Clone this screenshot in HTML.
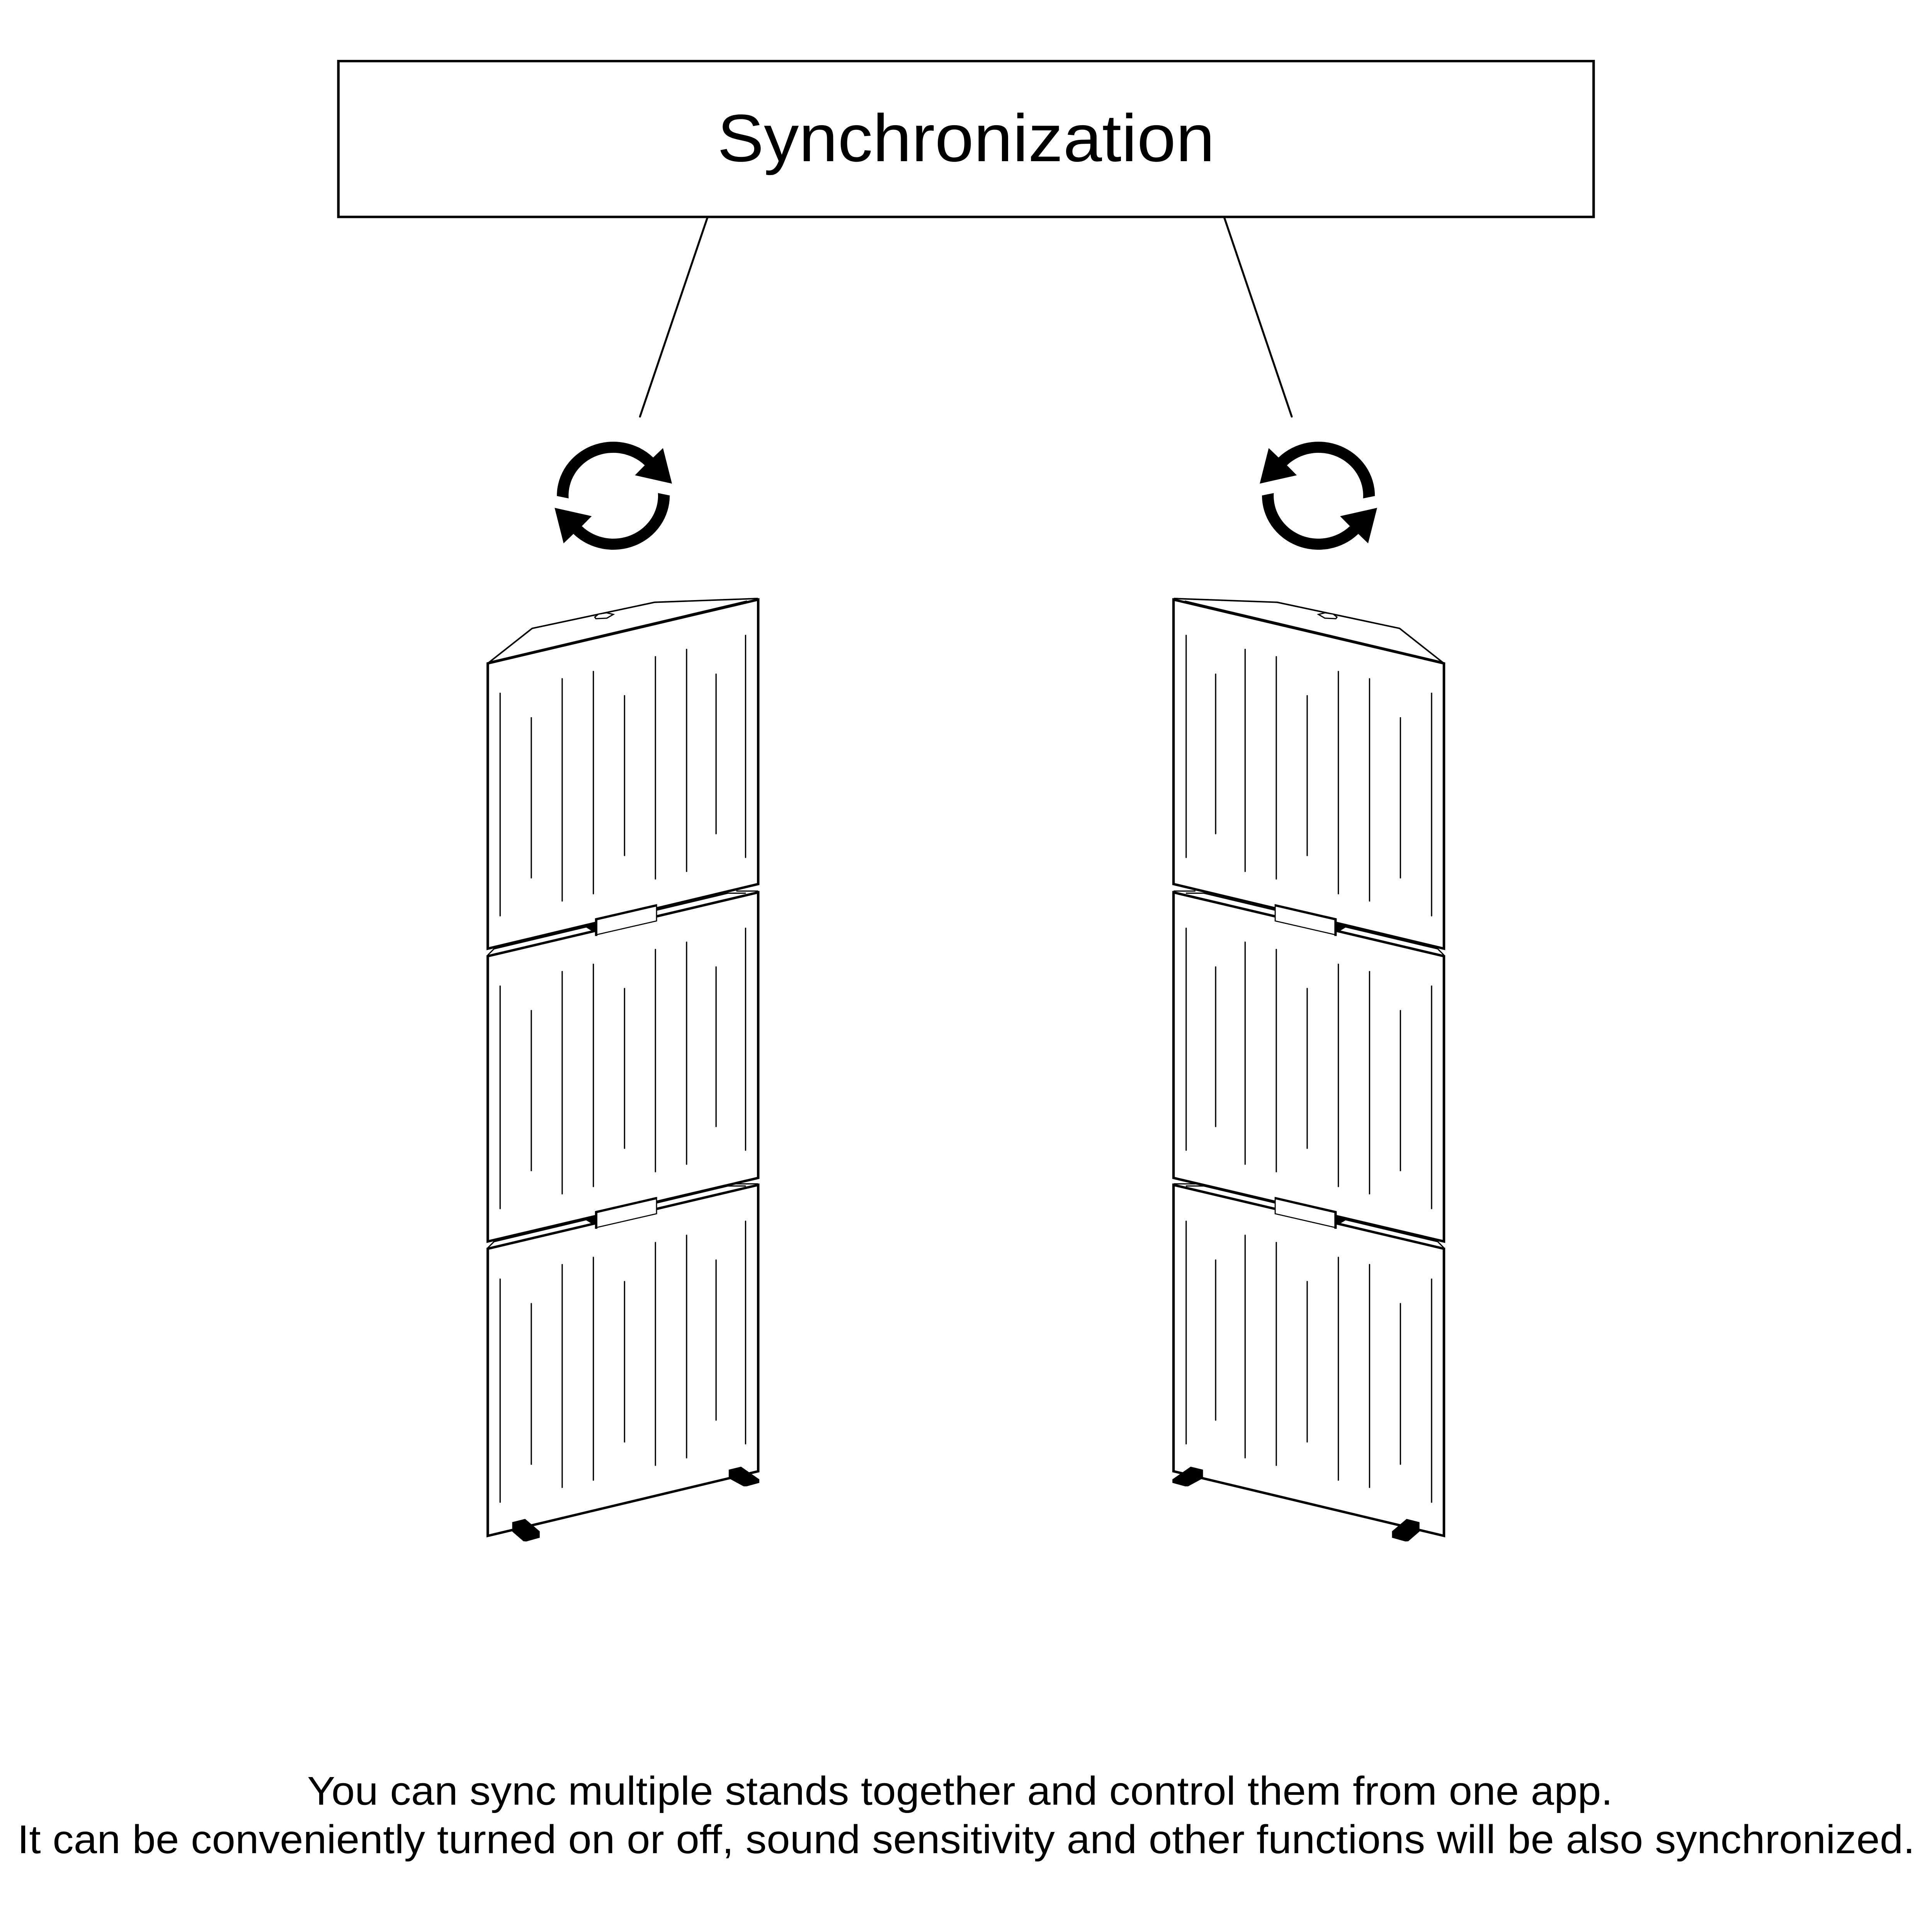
<!DOCTYPE html>
<html>
<head>
<meta charset="utf-8">
<style>
  html, body { margin: 0; padding: 0; background: #fff; width: 100%; height: 100%; overflow: hidden; }
  svg { display: block; width: 100vw; height: 100vh; }
  text { font-family: "Liberation Sans", Arial, sans-serif; fill: #000; }
</style>
</head>
<body>
<svg xmlns="http://www.w3.org/2000/svg" viewBox="0 0 6880 7179" preserveAspectRatio="none">
  <rect x="0" y="0" width="6880" height="7179" fill="#fff"/>

  <!-- Title box -->
  <rect x="1205" y="227" width="4470" height="579" fill="none" stroke="#000" stroke-width="9"/>
  <text x="3440" y="599" font-size="249" text-anchor="middle">Synchronization</text>

  <!-- Connectors -->
  <line x1="2519" y1="809" x2="2279" y2="1548" stroke="#000" stroke-width="7" stroke-linecap="round"/>
  <line x1="4360" y1="809" x2="4600" y2="1548" stroke="#000" stroke-width="7" stroke-linecap="round"/>

  <!-- Sync icons -->
  <g transform="translate(2184,1842)" fill="#000" stroke="none">
    <path d="M -201,1 A 201 201 0 0 1 142,-142 L 177,-177 L 209,-45 L 77,-76 L 112,-113 A 159 159 0 0 0 -159,10 Z"/>
    <path d="M 201,-1 A 201 201 0 0 1 -142,142 L -177,177 L -209,45 L -77,76 L -112,113 A 159 159 0 0 0 159,-10 Z"/>
  </g>
  <g transform="translate(4695,1842) scale(-1,1)" fill="#000" stroke="none">
    <path d="M -201,1 A 201 201 0 0 1 142,-142 L 177,-177 L 209,-45 L 77,-76 L 112,-113 A 159 159 0 0 0 -159,10 Z"/>
    <path d="M 201,-1 A 201 201 0 0 1 -142,142 L -177,177 L -209,45 L -77,76 L -112,113 A 159 159 0 0 0 159,-10 Z"/>
  </g>

  <!-- Left stand -->
  <g id="stand" fill="none" stroke="#000" stroke-linejoin="miter">
    <!-- top face -->
    <polygon points="1737,2465 1895,2335 2331,2238 2697,2224 2700,2228" fill="#fff" stroke-width="5.5"/>
    <line x1="1750" y1="2458" x2="2660" y2="2233" stroke-width="4"/>
    <polygon points="2118,2293 2122,2299 2161,2297 2184,2283 2160,2277 2131,2282" fill="#fff" stroke-width="4.5"/>

    <!-- panels -->
    <polygon points="1737,2465 2700,2228 2700,3285 1737,3525" fill="#fff" stroke-width="9"/>
    <polygon points="1737,3553 2700,3316 2700,4377 1737,4613" fill="#fff" stroke-width="9"/>
    <polygon points="1737,4640 2700,4403 2700,5467 1737,5707" fill="#fff" stroke-width="9"/>

    <!-- hinge 1 -->
    <g>
      <polyline points="1737,3549 1759,3526 2592,3319 2656,3319" stroke-width="4.5"/>
      <line x1="2622" y1="3311" x2="2700" y2="3311" stroke-width="4.5"/>
      <polygon points="2085,3445 2104,3457 2121,3463 2121,3430" fill="#000" stroke="none"/>
      <polygon points="2121,3414 2338,3362 2338,3422 2121,3474" fill="#fff" stroke-width="4"/>
      <polyline points="2123,3478 2123,3416 2338,3364" stroke-width="8.5"/>
    </g>
    <!-- hinge 2 -->
    <g transform="translate(0,1088)">
      <polyline points="1737,3549 1759,3526 2592,3319 2656,3319" stroke-width="4.5"/>
      <line x1="2622" y1="3311" x2="2700" y2="3311" stroke-width="4.5"/>
      <polygon points="2085,3445 2104,3457 2121,3463 2121,3430" fill="#000" stroke="none"/>
      <polygon points="2121,3414 2338,3362 2338,3422 2121,3474" fill="#fff" stroke-width="4"/>
      <polyline points="2123,3478 2123,3416 2338,3364" stroke-width="8.5"/>
    </g>

    <!-- grooves panel 1 -->
    <g stroke-width="4.5" stroke-linecap="round">
      <line x1="1781" y1="2576" x2="1781" y2="3403"/>
      <line x1="1892" y1="2667" x2="1892" y2="3262"/>
      <line x1="2002" y1="2522" x2="2002" y2="3348"/>
      <line x1="2113" y1="2495" x2="2113" y2="3321"/>
      <line x1="2224" y1="2585" x2="2224" y2="3179"/>
      <line x1="2334" y1="2440" x2="2334" y2="3266"/>
      <line x1="2445" y1="2413" x2="2445" y2="3238"/>
      <line x1="2550" y1="2505" x2="2550" y2="3098"/>
      <line x1="2655" y1="2361" x2="2655" y2="3186"/>
    </g>
    <!-- grooves panel 2 -->
    <g stroke-width="4.5" stroke-linecap="round" transform="translate(0,1088)">
      <line x1="1781" y1="2576" x2="1781" y2="3403"/>
      <line x1="1892" y1="2667" x2="1892" y2="3262"/>
      <line x1="2002" y1="2522" x2="2002" y2="3348"/>
      <line x1="2113" y1="2495" x2="2113" y2="3321"/>
      <line x1="2224" y1="2585" x2="2224" y2="3179"/>
      <line x1="2334" y1="2440" x2="2334" y2="3266"/>
      <line x1="2445" y1="2413" x2="2445" y2="3238"/>
      <line x1="2550" y1="2505" x2="2550" y2="3098"/>
      <line x1="2655" y1="2361" x2="2655" y2="3186"/>
    </g>
    <!-- grooves panel 3 -->
    <g stroke-width="4.5" stroke-linecap="round" transform="translate(0,2177)">
      <line x1="1781" y1="2576" x2="1781" y2="3405"/>
      <line x1="1892" y1="2667" x2="1892" y2="3264"/>
      <line x1="2002" y1="2522" x2="2002" y2="3350"/>
      <line x1="2113" y1="2495" x2="2113" y2="3323"/>
      <line x1="2224" y1="2585" x2="2224" y2="3181"/>
      <line x1="2334" y1="2440" x2="2334" y2="3268"/>
      <line x1="2445" y1="2413" x2="2445" y2="3240"/>
      <line x1="2550" y1="2505" x2="2550" y2="3100"/>
      <line x1="2655" y1="2361" x2="2655" y2="3188"/>
    </g>

    <!-- feet -->
    <polygon points="1824,5656 1870,5644 1922,5690 1922,5714 1874,5728 1864,5727 1824,5691" fill="#000" stroke="none"/>
    <polygon points="2595,5461 2639,5450 2704,5497 2704,5510 2659,5523 2648,5523 2595,5493" fill="#000" stroke="none"/>
  </g>

  <!-- Right stand (mirror) -->
  <use href="#stand" transform="matrix(-1,0,0,1,6879,0)"/>

  <!-- Caption -->
  <text x="1094" y="6706" font-size="149.5" textLength="4649">You can sync multiple stands together and control them from one app.</text>
  <text x="62" y="6886" font-size="149.5" textLength="6757">It can be conveniently turned on or off, sound sensitivity and other functions will be also synchronized.</text>
</svg>
</body>
</html>
